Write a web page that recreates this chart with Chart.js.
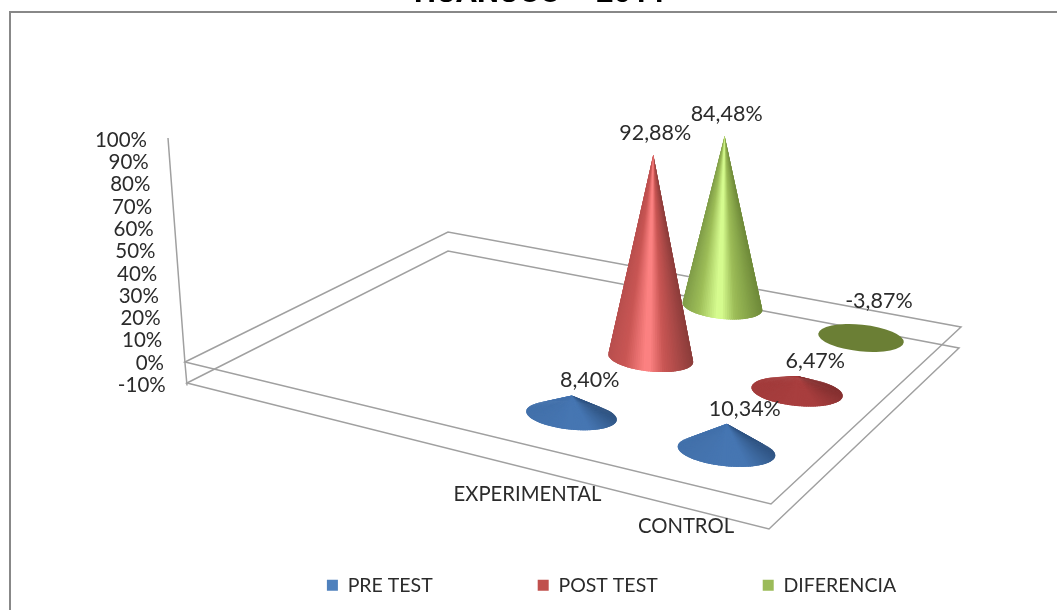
<!DOCTYPE html>
<html>
<head>
<meta charset="utf-8">
<style>
  html, body { margin: 0; padding: 0; background: #fff; overflow: hidden; }
  #wrap { width: 1057px; height: 610px; }
</style>
<script src="https://cdn.jsdelivr.net/npm/chart.js@4"></script>
</head>
<body>
<div id="wrap"><canvas id="myChart" width="1057" height="610"></canvas></div>
<script>
// chart values
var categories = ['EXPERIMENTAL', 'CONTROL'];
var preTest = [8.40, 10.34];
var postTest = [92.88, 6.47];
var diferencia = [84.48, -3.87];
var seriesNames = ['PRE TEST', 'POST TEST', 'DIFERENCIA'];
var legendColors = ['#4f81bd', '#c0504d', '#9bbb59'];

var FONT = 'Lato, "Open Sans", sans-serif';
var TEXT = '#2b2b2b';

// the 3d look: edge, middle, highlight and shadow of each series' cones
var tallRamps = [
    ['#3e6da8', '#4a7cba', '#7db2f0', '#2f5580'],
    ['#b84f4e', '#c95654', '#ff8484', '#8c3d3b'],
    ['#7f9c48', '#9dbd58', '#d9ff92', '#6f8a3a']
];
var flatShades = [
    ['#4676b2', '#24436b'],
    ['#a83e3e', '#742a2a'],
    ['#6b7f35', '#6b7f35']
];

// floor of the box at the 0% and -10% levels: left, back, right, front
var floorZero = [[185, 362], [448, 232], [961, 327], [771, 504]];
var floorLow = [[187, 383], [448, 251], [959, 348], [769, 529]];
// where the corners of the cone grid land on the floor [exp, control] x [front, back]
var gridFront = [[571.5, 415.5], [726.5, 451]];
var gridBack = [[722.5, 306.5], [861, 338]];
var radiusFront = [45.5, 49];
var radiusBack = [40, 43];

function lerp(a, b, t) { return a + (b - a) * t; }

function hex(c) {
    return [parseInt(c.substr(1, 2), 16), parseInt(c.substr(3, 2), 16), parseInt(c.substr(5, 2), 16)];
}

function mix(c1, c2, t) {
    var a = hex(c1), b = hex(c2);
    return 'rgb(' + Math.round(lerp(a[0], b[0], t)) + ',' + Math.round(lerp(a[1], b[1], t)) + ',' + Math.round(lerp(a[2], b[2], t)) + ')';
}

function tallShade(ramp, t) {
    // t goes -1 (left edge) .. 1 (right edge)
    if (t < -0.55) return mix(ramp[0], ramp[1], (t + 1) / 0.45);
    if (t < -0.05) return mix(ramp[1], ramp[2], (t + 0.55) / 0.5);
    if (t < 0.3) return mix(ramp[2], ramp[1], (t + 0.05) / 0.35);
    return mix(ramp[1], ramp[3], (t - 0.3) / 0.7);
}

function flatShade(pair, cos, sin) {
    var d = Math.min(1, Math.max(0, cos * 0.9 - sin * 0.4));
    if (cos < 0) d = Math.max(d, -cos * 0.15);
    return mix(pair[0], pair[1], 0.7 * d);
}

function project(u, s) {
    var v = Math.pow(s, 0.93);
    var x = lerp(lerp(gridFront[0][0], gridFront[1][0], u), lerp(gridBack[0][0], gridBack[1][0], u), v);
    var y = lerp(lerp(gridFront[0][1], gridFront[1][1], u), lerp(gridBack[0][1], gridBack[1][1], u), v);
    var r = lerp(lerp(radiusFront[0], radiusFront[1], u), lerp(radiusBack[0], radiusBack[1], u), v);
    return { x: x, y: y, r: r };
}

function drawCone(ctx, p, height, series) {
    var a = p.r, b = p.r * 0.31, tilt = 0.1;
    var tall = height > 2 * a;
    var ax = p.x + height * 0.0125, ay = p.y - height;
    var cosT = Math.cos(tilt), sinT = Math.sin(tilt);
    function rim(phi) {
        var ex = a * Math.cos(phi), ey = b * Math.sin(phi);
        return [p.x + ex * cosT - ey * sinT, p.y + ex * sinT + ey * cosT];
    }
    if (height <= 0) {
        // points down below the floor: only the flat top shows
        ctx.fillStyle = flatShades[series][0];
        ctx.beginPath();
        ctx.ellipse(p.x, p.y, a, b, tilt, 0, Math.PI * 2);
        ctx.fill();
        return;
    }
    var n = 120, slices = [];
    for (var i = 0; i < n; i++) {
        slices.push((i + 0.5) / n * Math.PI * 2);
    }
    // back of the cone first, each slice overlaps the one painted before it
    slices.sort(function (s1, s2) { return Math.sin(s1) - Math.sin(s2); });
    slices.forEach(function (phi) {
        var p1 = rim(phi - 2.5 * Math.PI / n), p2 = rim(phi + 2.5 * Math.PI / n);
        ctx.fillStyle = tall ? tallShade(tallRamps[series], Math.cos(phi)) : flatShade(flatShades[series], Math.cos(phi), Math.sin(phi));
        ctx.beginPath();
        ctx.moveTo(ax, ay);
        ctx.lineTo(p1[0], p1[1]);
        ctx.lineTo(p2[0], p2[1]);
        ctx.closePath();
        ctx.fill();
    });
}

function quad(ctx, q) {
    ctx.beginPath();
    ctx.moveTo(q[0][0], q[0][1]);
    for (var i = 1; i < 4; i++) ctx.lineTo(q[i][0], q[i][1]);
    ctx.closePath();
    ctx.stroke();
}

function percent(v) {
    return v.toFixed(2).replace('.', ',') + '%';
}

var cones3d = {
    id: 'cones3d',
    // the flat bars only carry the scale positions, cones are drawn instead
    beforeDatasetDraw: function () { return false; },
    beforeDatasetsDraw: function (chart) {
        var ctx = chart.ctx, y = chart.scales.y;
        ctx.save();
        // page frame of the pasted chart
        ctx.strokeStyle = '#888888';
        ctx.lineWidth = 2;
        ctx.beginPath();
        ctx.moveTo(1057, 12);
        ctx.lineTo(10, 12);
        ctx.lineTo(10, 610);
        ctx.stroke();
        // wall axis and floor
        ctx.strokeStyle = '#a0a0a0';
        ctx.lineWidth = 1.5;
        quad(ctx, floorZero);
        quad(ctx, floorLow);
        ctx.beginPath();
        ctx.moveTo(168, y.getPixelForValue(100) - 2);
        ctx.lineTo(185, y.getPixelForValue(0));
        ctx.lineTo(187, y.getPixelForValue(-10));
        ctx.stroke();
        // value axis labels follow the slanted wall
        ctx.font = '20.5px ' + FONT;
        ctx.fillStyle = TEXT;
        ctx.textAlign = 'right';
        ctx.textBaseline = 'middle';
        y.ticks.forEach(function (tick) {
            var ax = 168 + (100 - tick.value) / 100 * 17;
            ctx.fillText(tick.label, ax - 21, y.getPixelForValue(tick.value));
        });
        ctx.restore();
    },
    afterDatasetsDraw: function (chart) {
        var ctx = chart.ctx, x = chart.scales.x;
        var nSeries = chart.data.datasets.length;
        var labels = [];
        ctx.save();
        for (var s = nSeries - 1; s >= 0; s--) {
            var meta = chart.getDatasetMeta(s);
            meta.data.forEach(function (bar, i) {
                var u = (x.getDecimalForPixel(bar.x) - 0.25) * 2;
                var p = project(u, s / (nSeries - 1));
                var value = chart.data.datasets[s].data[i];
                var h = (bar.base - bar.y) * Math.pow(p.r / 43.2, 1.3);
                drawCone(ctx, p, h, s);
                var dx = value > 50 ? 2 : 18;
                var dy = value < 0 ? -37 : (value > 50 ? -22 : -15);
                labels.push({ text: percent(value), x: p.x + h * 0.0125 + dx, y: p.y - Math.max(h, 0) + dy });
            });
        }
        ctx.font = '21.5px ' + FONT;
        ctx.fillStyle = TEXT;
        ctx.textAlign = 'center';
        ctx.textBaseline = 'middle';
        labels.forEach(function (l) { ctx.fillText(l.text, l.x, l.y); });
        // category labels sit along the front edge of the floor
        ctx.font = '20.3px ' + FONT;
        chart.data.labels.forEach(function (name, i) {
            var u = (x.getDecimalForPixel(x.getPixelForValue(i)) - 0.25) * 2;
            var p = project(u, 0);
            ctx.fillText(name, p.x + lerp(-44, -40.5, u), p.y + lerp(79, 75, u));
        });
        ctx.restore();
    }
};

var ctx = document.getElementById('myChart').getContext('2d');
var myChart = new Chart(ctx, {
    type: 'bar',
    plugins: [cones3d],
    data: {
        labels: categories,
        datasets: [
            { label: seriesNames[0], data: preTest, backgroundColor: legendColors[0], borderWidth: 0 },
            { label: seriesNames[1], data: postTest, backgroundColor: legendColors[1], borderWidth: 0 },
            { label: seriesNames[2], data: diferencia, backgroundColor: legendColors[2], borderWidth: 0 }
        ]
    },
    options: {
        responsive: false,
        animation: false,
        grouped: false,
        layout: { padding: { top: -24, left: 24, right: 0, bottom: 5 } },
        scales: {
            x: {
                grid: { display: false },
                border: { display: false },
                ticks: { display: false },
                afterFit: function (scale) { scale.height = 85; }
            },
            y: {
                min: -10,
                max: 100,
                grid: { display: false },
                border: { display: false },
                ticks: {
                    display: false,
                    stepSize: 10,
                    callback: function (v) { return v + '%'; }
                },
                afterFit: function (scale) { scale.width = 142; }
            }
        },
        plugins: {
            tooltip: { enabled: false },
            title: {
                display: true,
                text: 'HUÁNUCO – 2011',
                color: '#000000',
                font: { family: 'Roboto, "Liberation Sans", sans-serif', size: 31, weight: 'bold', lineHeight: 1.2 },
                padding: { top: 0, bottom: 126.8 }
            },
            legend: {
                position: 'bottom',
                fullSize: false,
                labels: {
                    boxWidth: 11,
                    boxHeight: 11,
                    padding: 105,
                    color: TEXT,
                    font: { family: FONT, size: 19.5 }
                }
            }
        }
    }
});
</script>
</body>
</html>
